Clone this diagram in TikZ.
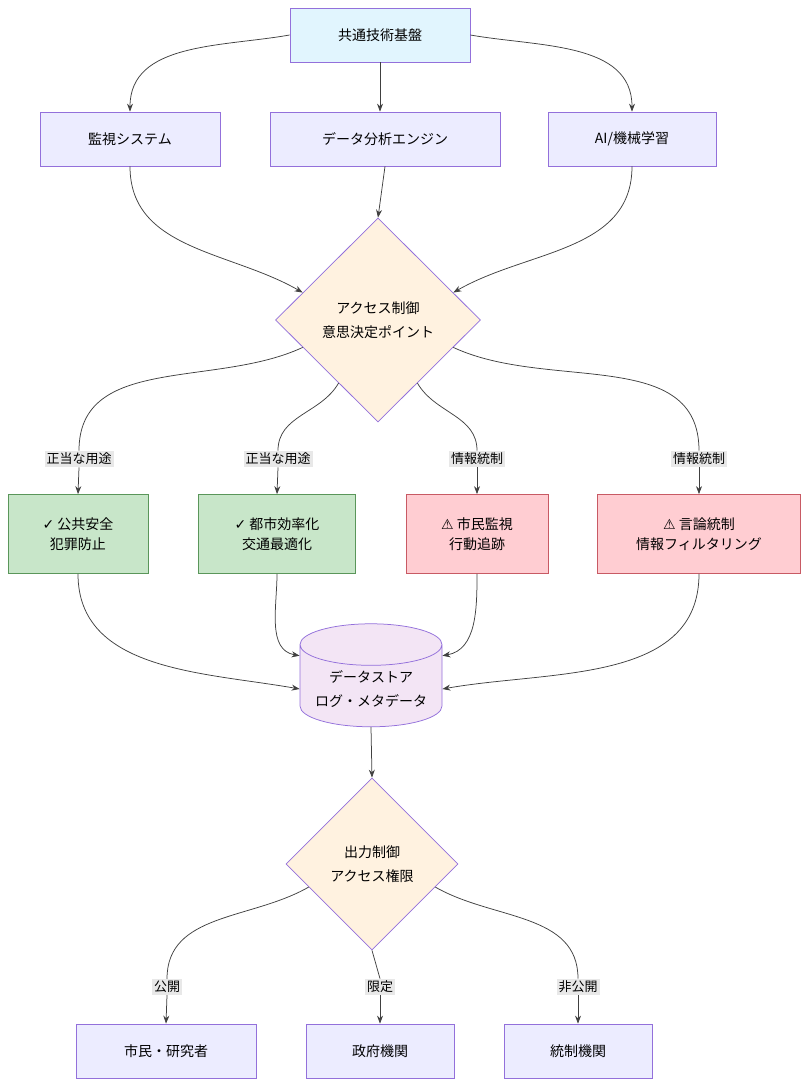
\documentclass[tikz,border=0pt]{standalone}
\usepackage{fontspec}
\setmainfont{Noto Sans CJK JP}
\newfontfamily\symfont{DejaVu Sans}
\usetikzlibrary{shapes.geometric,arrows.meta}
\definecolor{boxblue}{RGB}{236,236,255}
\definecolor{topblue}{RGB}{225,245,254}
\definecolor{lilac}{RGB}{147,112,219}
\definecolor{okgreen}{RGB}{200,230,201}
\definecolor{okline}{RGB}{90,150,90}
\definecolor{ngred}{RGB}{255,205,210}
\definecolor{ngline}{RGB}{200,90,100}
\definecolor{decide}{RGB}{255,242,224}
\definecolor{store}{RGB}{243,229,245}
\definecolor{lblbg}{RGB}{232,232,232}
\tikzset{every picture/.style={line width=0.75pt}}
\tikzset{
  box/.style={draw=lilac,fill=boxblue,minimum height=54pt,align=center,font=\fontsize{14}{20}\selectfont},
  good/.style={box,draw=okline,fill=okgreen,minimum height=79pt},
  bad/.style={box,draw=ngline,fill=ngred,minimum height=79pt},
  lbl/.style={fill=lblbg,inner sep=2pt,font=\fontsize{13}{16}\selectfont},
  link/.style={draw=black!75,-{Stealth[length=8pt,width=6pt]}},
  line/.style={draw=black!75},
}
\begin{document}
\begin{tikzpicture}[x=1pt,y=-1pt]
\useasboundingbox (0,0) rectangle (810,1087);
% top
\node[box,fill=topblue,minimum width=180pt] (base) at (380,35) {共通技術基盤};
\node[box,minimum width=180pt] (cam) at (130,139) {監視システム};
\node[box,minimum width=230pt] (ana) at (385,139) {データ分析エンジン};
\node[box,minimum width=168pt] (ai) at (632,139) {AI/機械学習};
% decision
\node[draw=lilac,fill=decide,diamond,minimum width=205pt,minimum height=204pt,align=center,font=\fontsize{14}{24}\selectfont] (acc) at (378,320) {アクセス制御\\意思決定ポイント};
% uses
\node[good,minimum width=140pt] (safe) at (78,534) {{\symfont ✓} 公共安全\\犯罪防止};
\node[good,minimum width=157pt] (city) at (277,534) {{\symfont ✓} 都市効率化\\交通最適化};
\node[bad,minimum width=142pt] (watch) at (477,534) {{\symfont ⚠} 市民監視\\行動追跡};
\node[bad,minimum width=203pt] (speech) at (699,534) {{\symfont ⚠} 言論統制\\情報フィルタリング};
% labels
\node[lbl] (l1) at (79,459) {正当な用途};
\node[lbl] (l2) at (278,459) {正当な用途};
\node[lbl] (l3) at (477,459) {情報統制};
\node[lbl] (l4) at (699,459) {情報統制};
% store
\node[cylinder,shape border rotate=90,draw=lilac,fill=store,minimum width=142pt,minimum height=103pt,aspect=0.35,align=center,font=\fontsize{14}{24}\selectfont] (db) at (371,689) {データストア\\ログ・メタデータ};
% output
\node[draw=lilac,fill=decide,diamond,minimum width=172pt,minimum height=172pt,align=center,font=\fontsize{14}{24}\selectfont] (out) at (372,864) {出力制御\\アクセス権限};
\node[lbl] (m1) at (167,987) {公開};
\node[lbl] (m2) at (380,987) {限定};
\node[lbl] (m3) at (578,987) {非公開};
\node[box,minimum width=180pt] (pub) at (166,1051) {市民・研究者};
\node[box,minimum width=148pt] (gov) at (380,1051) {政府機関};
\node[box,minimum width=148pt] (ctl) at (578,1051) {統制機関};
% edges
\draw[link] (base.west) to[out=190,in=90] (cam.north);
\draw[link] (base.south) -- (base.south|-ana.north);
\draw[link] (base.east) to[out=-10,in=90] (ai.north);
\draw[link] (cam.south) to[out=-90,in=150] (acc.160);
\draw[link] (ana.south) -- (acc.north);
\draw[link] (ai.south) to[out=-90,in=30] (acc.20);
\draw[line] (acc.200) to[out=205,in=90] (l1.north);
\draw[link] (l1.south) -- (safe.north);
\draw[line] (acc.238) to[out=240,in=90] (l2.north);
\draw[link] (l2.south) -- (city.north);
\draw[line] (acc.302) to[out=-60,in=90] (l3.north);
\draw[link] (l3.south) -- (watch.north);
\draw[line] (acc.340) to[out=-25,in=90] (l4.north);
\draw[link] (l4.south) -- (speech.north);
\draw[link] (safe.south) to[out=-90,in=170] (db.west);
\draw[link] (city.south) to[out=-90,in=170] (db.155);
\draw[link] (watch.south) to[out=-90,in=10] (db.25);
\draw[link] (speech.south) to[out=-90,in=10] (db.east);
\draw[link] (db.south) -- (out.north);
\draw[line] (out.200) to[out=210,in=90] (m1.north);
\draw[link] (m1.south) -- (pub.north);
\draw[line] (out.south) -- (m2.north);
\draw[link] (m2.south) -- (gov.north);
\draw[line] (out.340) to[out=-30,in=90] (m3.north);
\draw[link] (m3.south) -- (ctl.north);
\end{tikzpicture}
\end{document}
